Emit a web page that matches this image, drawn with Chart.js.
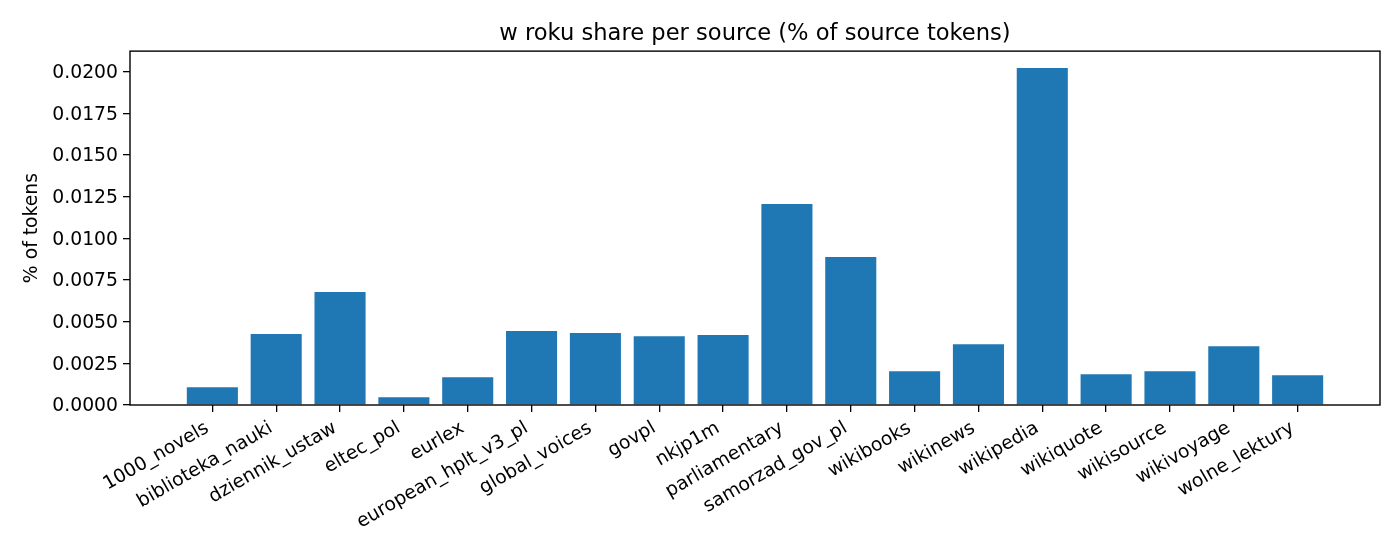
<!DOCTYPE html>
<html>
<head>
<meta charset="utf-8">
<script src="https://cdn.jsdelivr.net/npm/chart.js@4/dist/chart.umd.min.js"></script>
<style>
  html, body { margin: 0; padding: 0; background: #fff; }
  #wrap { width: 1400px; height: 560px; }
</style>
</head>
<body>
<div id="wrap"><canvas id="shareChart" width="1400" height="560"></canvas></div>
<script>
// ── DATA ──────────────────────────────────────────────
const sources = [
    '1000_novels', 'biblioteka_nauki', 'dziennik_ustaw', 'eltec_pol', 'eurlex',
    'european_hplt_v3_pl', 'global_voices', 'govpl', 'nkjp1m', 'parliamentary',
    'samorzad_gov_pl', 'wikibooks', 'wikinews', 'wikipedia', 'wikiquote',
    'wikisource', 'wikivoyage', 'wolne_lektury'
];
const shares = [
    0.00106, 0.00425, 0.00677, 0.00046, 0.00166,
    0.00443, 0.00431, 0.00413, 0.00419, 0.01205,
    0.00887, 0.00202, 0.00365, 0.02021, 0.00185,
    0.00202, 0.00353, 0.00179
];
const yTicks = [0, 0.0025, 0.005, 0.0075, 0.01, 0.0125, 0.015, 0.0175, 0.02];

const TICK_FONT = { family: 'DejaVu Sans', size: 18.8 };

// full box round the plot, like matplotlib spines
const spines = {
    id: 'spines',
    afterDraw(chart) {
        const { ctx, chartArea: a } = chart;
        ctx.save();
        ctx.strokeStyle = '#000';
        ctx.lineWidth = 1.4;
        ctx.strokeRect(a.left, a.top, a.right - a.left, a.bottom - a.top);
        ctx.restore();
    }
};

new Chart(document.getElementById('shareChart'), {
    type: 'bar',
    data: {
        datasets: [{
            label: 'share',
            data: shares.map((v, i) => ({ x: i, y: v })),
            backgroundColor: '#1f77b4',
            borderWidth: 0,
            barPercentage: 0.8,
            categoryPercentage: 1.0
        }]
    },
    options: {
        responsive: false,
        animation: false,
        devicePixelRatio: 1,
        layout: { padding: { left: 0, right: 20, top: 0, bottom: 0 } },
        plugins: {
            legend: { display: false },
            tooltip: { enabled: false },
            title: {
                display: true,
                fullSize: false,   // centre over the plot area, not the canvas
                text: 'w roku share per source (% of source tokens)',
                color: '#000',
                font: { family: 'DejaVu Sans', size: 22.6, weight: 'normal' },
                padding: { top: 21, bottom: 3 }
            }
        },
        scales: {
            x: {
                type: 'linear',
                min: -1.29,
                max: sources.length - 1 + 1.29,
                offset: false,
                afterBuildTicks: s => { s.ticks = sources.map((_, i) => ({ value: i })); },
                afterFit: s => { s.height = 155; },
                grid: { display: true, drawOnChartArea: false, drawTicks: true, tickLength: 7, color: '#000', lineWidth: 1.3, offset: false },
                border: { display: false },
                ticks: {
                    autoSkip: false,
                    minRotation: 30,
                    maxRotation: 30,
                    padding: 5,
                    labelOffset: -5,
                    color: '#000',
                    font: TICK_FONT,
                    callback: v => sources[v]
                }
            },
            y: {
                min: 0,
                max: 0.02122,
                afterBuildTicks: s => { s.ticks = yTicks.map(v => ({ value: v })); },
                afterFit: s => { s.width = 130; },
                grid: { display: true, drawOnChartArea: false, drawTicks: true, tickLength: 7, color: '#000', lineWidth: 1.3 },
                border: { display: false },
                ticks: {
                    padding: 5,
                    labelOffset: 1.5,
                    color: '#000',
                    font: TICK_FONT,
                    callback: v => v.toFixed(4)
                },
                title: {
                    display: true,
                    text: '% of tokens',
                    color: '#000',
                    font: { family: 'DejaVu Sans', size: 18.8 },
                    padding: { top: 21, bottom: 0 }
                }
            }
        }
    },
    plugins: [spines]
});
</script>
</body>
</html>
